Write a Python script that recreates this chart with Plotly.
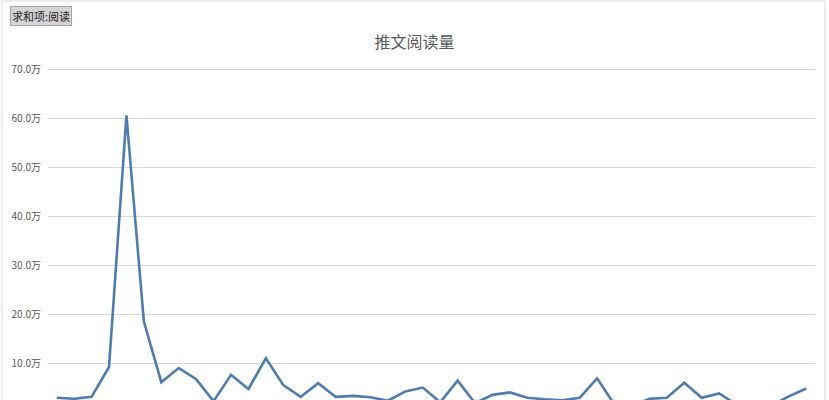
import plotly.graph_objects as go

### data (阅读量, 单位: 万)
posts = ['推文%d' % (i + 1) for i in range(44)]
reads = [2.9, 2.7, 3.1, 9.2, 60.7, 18.5, 6.1, 9.0, 6.7, 2.2,
         7.6, 4.7, 11.0, 5.5, 3.1, 5.9, 3.1, 3.3, 3.0, 2.3,
         4.2, 5.0, 2.0, 6.4, 1.8, 3.5, 4.0, 2.9, 2.6, 2.4,
         2.9, 6.9, 1.5, 1.2, 2.7, 2.9, 6.0, 2.9, 3.8, 1.5,
         1.2, 1.3, 3.2, 4.8]
y_ticks = [10, 20, 30, 40, 50, 60, 70]

grey = '#595959'

fig = go.Figure()
fig.add_trace(go.Scatter(x=posts, y=reads, mode='lines',
                         line=dict(color='#4f7cac', width=2.6),
                         name='阅读'))

fig.update_layout(
    width=829, height=400,
    margin=dict(l=48, r=14, t=67, b=0),
    paper_bgcolor='white', plot_bgcolor='white',
    font=dict(family='Noto Sans CJK SC', color=grey, size=10),
    showlegend=False,
    title=dict(text='推文阅读量', x=0.5, xanchor='center', y=0.893, yanchor='middle',
               font=dict(size=16, color=grey)),
    xaxis=dict(showticklabels=False, showgrid=False, zeroline=False,
               range=[-0.5, len(posts) - 0.5]),
    yaxis=dict(range=[2.45, 70.61], tickvals=y_ticks,
               ticktext=['%.1f万' % v for v in y_ticks],
               showgrid=True, gridcolor='#d9d9d9', gridwidth=1,
               zeroline=False, ticks='', ticklabelstandoff=6,
               tickfont=dict(size=10, color=grey)),
)

# 数据透视表字段按钮
fig.add_annotation(text='求和项:阅读', xref='paper', yref='paper',
                   x=-38 / 767, y=1 + 51 / 333, xanchor='left', yanchor='middle',
                   showarrow=False, bgcolor='#d4d4d4', bordercolor='#a6a6a6',
                   borderwidth=1, borderpad=1,
                   font=dict(size=11, color='#222222'))

# chart border
fig.add_shape(type='rect', xref='paper', yref='paper',
              x0=-46 / 767, x1=1 + 10 / 767, y0=-0.1, y1=1 + 66 / 333,
              line=dict(color='#d9d9d9', width=1))

# page has a default 8px body margin, drop it
fig.write_html('out.html', config={'displayModeBar': False},
               post_script="document.body.style.margin='0';")
